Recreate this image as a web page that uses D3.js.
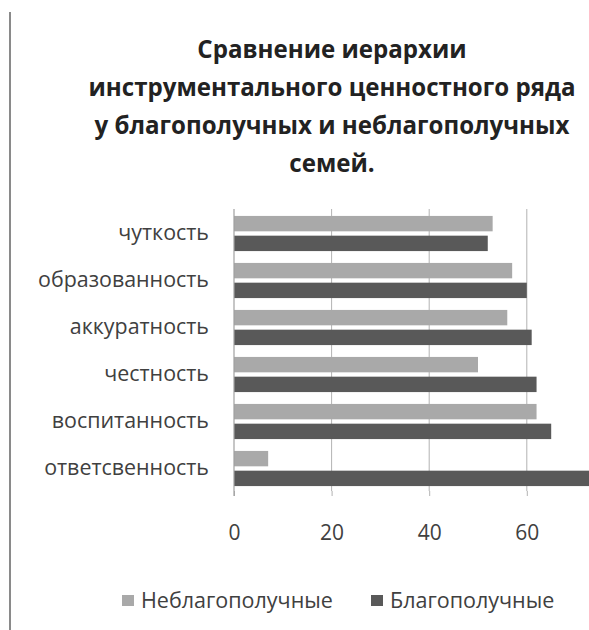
<!DOCTYPE html>
<html>
<head>
<meta charset="utf-8">
<script src="https://cdn.jsdelivr.net/npm/d3@7"></script>
<style>
  html, body { margin: 0; padding: 0; background: #fff; }
  svg { display: block; }
</style>
</head>
<body>
<svg id="chart" width="589" height="630"></svg>
<script>
// Instrumental values, listed top to bottom
const categories = ["чуткость", "образованность", "аккуратность", "честность", "воспитанность", "ответсвенность"];
const seriesNames = ["Неблагополучные", "Благополучные"];
const unfavourable = [53, 57, 56, 50, 62, 7];
const favourable = [52, 60, 61, 62, 65, 75];
const xTicks = [0, 20, 40, 60];
const titleLines = [
  "Сравнение иерархии",
  "инструментального ценностного ряда",
  "у благополучных и неблагополучных",
  "семей."
];

const colors = ["#a9a9a9", "#595959"];
const font = "'Open Sans', 'Noto Sans', sans-serif";

const svg = d3.select("#chart");

// Pick a font size so that a reference string spans the wanted width
function sizeFor(text, weight, width) {
  const probe = svg.append("text").attr("font-family", font).attr("font-weight", weight)
    .attr("font-size", 100).text(text);
  const w = probe.node().getComputedTextLength();
  probe.remove();
  return 100 * width / w;
}

// Frame line on the left edge
svg.append("line")
  .attr("x1", 10).attr("x2", 10).attr("y1", 12).attr("y2", 630)
  .attr("stroke", "#8a8a8a").attr("stroke-width", 2);

// Title
const titleSize = sizeFor(titleLines[1], 700, 487);
const title = svg.append("g").attr("font-family", font).attr("font-weight", 700)
  .attr("fill", "#222").attr("text-anchor", "middle");
title.selectAll("text").data(titleLines).join("text")
  .attr("x", 332)
  .attr("y", (d, i) => 58 + i * 38)
  .attr("font-size", titleSize)
  .text(d => d);

// Scales
const x = d3.scaleLinear().domain([0, 80]).range([234, 234 + 80 * 4.88]);
const y = d3.scaleBand().domain(categories).range([210, 492]);
const ySub = d3.scaleBand().domain(seriesNames).range([0, y.bandwidth()]).paddingInner(0.22).paddingOuter(0.3);

const plotTop = 209, plotBottom = 491;

// Gridlines
svg.append("g").selectAll("line").data(xTicks.filter(t => t > 0)).join("line")
  .attr("x1", d => x(d)).attr("x2", d => x(d))
  .attr("y1", plotTop).attr("y2", plotBottom)
  .attr("stroke", "#b3b3b3").attr("stroke-width", 1);

// Bars
const rows = categories.map((c, i) => ({ cat: c, values: [unfavourable[i], favourable[i]] }));
const groups = svg.append("g").selectAll("g").data(rows).join("g")
  .attr("transform", d => `translate(0,${y(d.cat)})`);
groups.selectAll("rect")
  .data(d => d.values.map((v, j) => ({ name: seriesNames[j], v, j })))
  .join("rect")
  .attr("x", x(0))
  .attr("y", d => ySub(d.name))
  .attr("width", d => x(d.v) - x(0))
  .attr("height", ySub.bandwidth())
  .attr("fill", d => colors[d.j]);

// Value axis: tick marks below the plot and labels
const tickSize = sizeFor("20", 400, 24);
const xAxis = d3.axisBottom(x).tickValues(xTicks).tickSize(5).tickPadding(29).tickFormat(d3.format("d"));
const xg = svg.append("g").attr("transform", `translate(0,${plotBottom})`).call(xAxis);
xg.select(".domain").remove();
xg.selectAll(".tick line").attr("stroke", "#b3b3b3");
xg.selectAll(".tick text").attr("font-family", font).attr("font-size", tickSize).attr("fill", "#404040");

// Vertical axis line at zero
svg.append("line")
  .attr("x1", x(0)).attr("x2", x(0)).attr("y1", plotTop).attr("y2", plotBottom + 5)
  .attr("stroke", "#a0a0a0").attr("stroke-width", 1.2);

// Category labels
const catSize = sizeFor("образованность", 400, 171);
const yAxis = d3.axisLeft(y).tickSize(0).tickPadding(25);
const yg = svg.append("g").attr("transform", `translate(${x(0)},0)`).call(yAxis);
yg.select(".domain").remove();
yg.selectAll(".tick text").attr("font-family", font).attr("font-size", catSize).attr("fill", "#404040");

// Legend
const legendSize = sizeFor(seriesNames[0], 400, 192);
const legendX = [122, 371];
const legend = svg.append("g").selectAll("g").data(seriesNames).join("g")
  .attr("transform", (d, i) => `translate(${legendX[i]},600)`);
legend.append("rect").attr("x", 0).attr("y", -5).attr("width", 12).attr("height", 11)
  .attr("fill", (d, i) => colors[i]);
legend.append("text").attr("x", 19).attr("y", 0).attr("dy", "0.35em")
  .attr("font-family", font).attr("font-size", legendSize).attr("fill", "#404040")
  .text(d => d);
</script>
</body>
</html>
